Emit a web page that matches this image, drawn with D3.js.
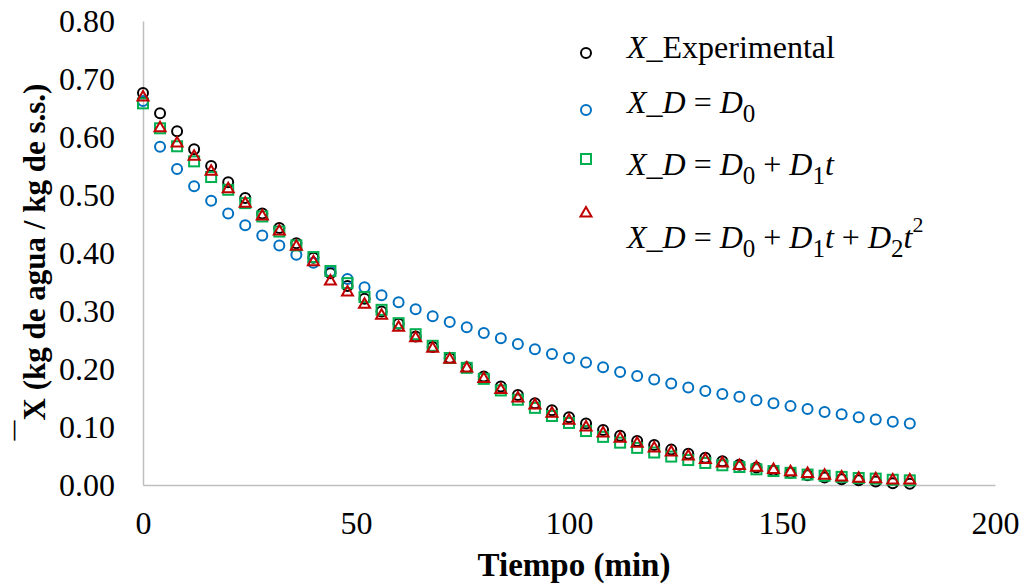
<!DOCTYPE html>
<html>
<head>
<meta charset="utf-8">
<script src="https://cdn.jsdelivr.net/npm/d3@7"></script>
<style>
  html, body { margin: 0; padding: 0; background: #fff; }
</style>
</head>
<body>
<svg id="chart" width="1031" height="588" font-family="'Liberation Serif', 'Times New Roman', Times, serif"></svg>
<script>
// Drying time (min), sampled every 4 minutes
const tiempo = [0,4,8,12,16,20,24,28,32,36,40,44,48,52,56,60,64,68,72,76,80,84,88,92,
  96,100,104,108,112,116,120,124,128,132,136,140,144,148,152,156,160,164,168,172,176,180];

// Moisture content X (kg water / kg dry solid)
const xExperimental = [0.676,0.641,0.610,0.579,0.550,0.522,0.495,0.468,0.443,0.417,0.392,0.365,
  0.343,0.321,0.299,0.278,0.256,0.238,0.219,0.203,0.187,0.170,0.155,0.141,0.129,0.117,0.106,
  0.095,0.085,0.076,0.069,0.061,0.054,0.047,0.041,0.035,0.030,0.025,0.021,0.017,0.013,0.010,
  0.008,0.006,0.003,0.002];

const xD0 = [0.662,0.583,0.545,0.515,0.490,0.468,0.448,0.430,0.413,0.397,0.383,0.368,0.355,
  0.341,0.327,0.315,0.303,0.291,0.281,0.272,0.262,0.253,0.243,0.234,0.226,0.219,0.211,0.203,
  0.195,0.188,0.182,0.175,0.168,0.162,0.157,0.152,0.146,0.141,0.136,0.131,0.126,0.122,0.117,
  0.113,0.109,0.106];

const xD0D1 = [0.658,0.615,0.584,0.558,0.531,0.509,0.486,0.463,0.437,0.413,0.393,0.369,0.348,
  0.324,0.302,0.279,0.260,0.240,0.219,0.202,0.183,0.163,0.147,0.133,0.119,0.107,0.093,0.083,
  0.073,0.064,0.056,0.049,0.043,0.038,0.034,0.031,0.027,0.024,0.021,0.018,0.016,0.014,0.012,
  0.011,0.009,0.008];

const xD0D1D2 = [0.669,0.616,0.590,0.567,0.541,0.511,0.486,0.464,0.438,0.412,0.385,0.352,0.333,
  0.312,0.293,0.272,0.254,0.236,0.217,0.202,0.184,0.165,0.150,0.138,0.124,0.112,0.100,0.090,
  0.081,0.072,0.064,0.057,0.050,0.044,0.038,0.034,0.031,0.027,0.023,0.020,0.017,0.014,0.012,
  0.011,0.009,0.009];

const xTicks = [0, 50, 100, 150, 200];
const yTicks = [0, 0.1, 0.2, 0.3, 0.4, 0.5, 0.6, 0.7, 0.8];

const FONT = "'Liberation Serif', 'Times New Roman', Times, serif";
const svg = d3.select("#chart");

const x = d3.scaleLinear().domain([0, 200]).range([143, 995]);
const y = d3.scaleLinear().domain([0, 0.8]).range([485, 21]);

const axisColor = "#bfbfbf";

// Axes (no tick marks, grey axis lines)
const gx = svg.append("g").attr("transform", `translate(0,${y(0)})`)
  .call(d3.axisBottom(x).tickValues(xTicks).tickSize(0).tickPadding(26).tickFormat(d3.format("d")));
const gy = svg.append("g").attr("transform", `translate(${x(0)},0)`)
  .call(d3.axisLeft(y).tickValues(yTicks).tickSize(0).tickPadding(28).tickFormat(d3.format(".2f")));
[gx, gy].forEach(g => {
  g.attr("font-family", FONT).attr("font-size", 32);
  g.select(".domain").attr("stroke", axisColor).attr("stroke-width", 1.5);
  g.selectAll("text").attr("fill", "#000");
});
gx.selectAll("text").attr("dy", "0.71em");
gy.selectAll("text").attr("dy", "0.34em");

// Series definitions
const series = [
  { name: "exp", values: xExperimental, color: "#000000", shape: "circle" },
  { name: "d0", values: xD0, color: "#0070c0", shape: "circle" },
  { name: "d1", values: xD0D1, color: "#00b050", shape: "square" },
  { name: "d2", values: xD0D1D2, color: "#c00000", shape: "triangle" }
];

function drawMarker(g, shape, cx, cy, color) {
  if (shape === "circle") {
    g.append("circle").attr("cx", cx).attr("cy", cy).attr("r", 5)
      .attr("fill", "none").attr("stroke", color).attr("stroke-width", 2);
  } else if (shape === "square") {
    g.append("rect").attr("x", cx - 5).attr("y", cy - 5).attr("width", 10).attr("height", 10)
      .attr("fill", "none").attr("stroke", color).attr("stroke-width", 2);
  } else {
    const h = 9.5, w = 11;
    g.append("path")
      .attr("d", `M${cx},${cy - h * 0.62}L${cx + w / 2},${cy + h * 0.38}L${cx - w / 2},${cy + h * 0.38}Z`)
      .attr("fill", "none").attr("stroke", color).attr("stroke-width", 2).attr("stroke-linejoin", "miter");
  }
}

const plot = svg.append("g");
series.forEach(s => {
  const g = plot.append("g").attr("class", "series-" + s.name);
  s.values.forEach((v, i) => drawMarker(g, s.shape, x(tiempo[i]), y(v), s.color));
});

// Axis titles
svg.append("text")
  .attr("x", 574).attr("y", 576)
  .attr("text-anchor", "middle")
  .attr("font-family", FONT).attr("font-size", 33).attr("font-weight", "bold")
  .text("Tiempo (min)");

// Vertical title: X with a bar (mean moisture), the bar raised ahead of the X
const yTitle = svg.append("text")
  .attr("transform", "translate(45,262) rotate(-90)")
  .attr("text-anchor", "middle")
  .attr("font-family", FONT).attr("font-weight", "bold");
yTitle.append("tspan").attr("dy", -25).attr("font-size", 20).text("\u2014");
yTitle.append("tspan").attr("dy", 25).attr("font-size", 31).text("X (kg de agua / kg de s.s.)");

// Legend
const legend = svg.append("g").attr("font-family", FONT);
const legendRows = [
  { shape: "circle", color: "#000000", my: 53 },
  { shape: "circle", color: "#0070c0", my: 110 },
  { shape: "square", color: "#00b050", my: 159 },
  { shape: "triangle", color: "#c00000", my: 213 }
];
legendRows.forEach(r => drawMarker(legend, r.shape, 586, r.my, r.color));

// Builds one equation line from [text, style] parts; style: i italic, r roman, s subscript, p superscript
function equation(yb, parts) {
  const t = legend.append("text").attr("x", 627).attr("y", yb).attr("font-size", 32);
  let shift = 0;
  parts.forEach(([s, kind]) => {
    const target = kind === "s" ? 9 : kind === "p" ? -16 : 0;
    const ts = t.append("tspan").attr("dy", target - shift).text(s);
    shift = target;
    if (kind === "i") ts.attr("font-style", "italic");
    if (kind === "s") ts.attr("font-size", 25);
    if (kind === "p") ts.attr("font-size", 22);
  });
  return t;
}
const NB = "\u00a0";
equation(58, [["X", "i"], ["_Experimental", "r"]]);
equation(113, [["X_D", "i"], [NB + "=" + NB, "r"], ["D", "i"], ["0", "s"]]);
equation(175, [["X_D", "i"], [NB + "=" + NB, "r"], ["D", "i"], ["0", "s"], [NB + "+" + NB, "r"],
  ["D", "i"], ["1", "s"], ["t", "i"]]);
equation(248, [["X_D", "i"], [NB + "=" + NB, "r"], ["D", "i"], ["0", "s"], [NB + "+" + NB, "r"],
  ["D", "i"], ["1", "s"], ["t", "i"], [NB + "+" + NB, "r"], ["D", "i"], ["2", "s"], ["t", "i"], ["2", "p"]]);
</script>
</body>
</html>
